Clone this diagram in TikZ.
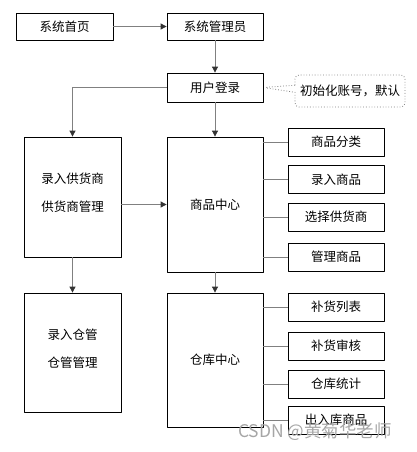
\documentclass[tikz,border=0pt]{standalone}
\usepackage{fontspec}
\setmainfont{Noto Sans CJK SC}
\usetikzlibrary{arrows.meta,shapes.callouts}
\tikzset{
	box/.style={draw, line width=0.8pt, minimum width=96pt, minimum height=28pt, inner sep=0pt},
	arr/.style={draw=gray, line width=0.8pt, -{Triangle[length=6pt,width=6pt,color=black!80]}},
	link/.style={draw=gray, line width=0.8pt},
}
\begin{document}
\begin{tikzpicture}[x=1pt, y=-1pt, line join=round, font=\fontsize{12.5}{28}\selectfont]
		\useasboundingbox (0,0) rectangle (417,452);
		\node[box, minimum width=97pt, minimum height=27pt] (home) at (64.5,26.5) {系统首页};
		\node[box, minimum height=27pt] (admin) at (215,26.5) {系统管理员};
		\node[box, minimum height=29pt] (login) at (215,87.5) {用户登录};
		\node[rectangle callout, draw=gray, dotted, line width=0.8pt, rounded corners=4pt,
			minimum width=110pt, minimum height=32pt, inner sep=0pt,
			callout absolute pointer={(login.east)}] (note) at (350,91) {初始化账号，默认};
		\node[box, minimum width=97pt, minimum height=120pt, align=center, text depth=10pt] (supplier) at (72.5,197) {录入供货商\\供货商管理};
		\node[box, minimum height=135pt] (goods) at (215,204.5) {商品中心};
		\node[box, minimum width=97pt, minimum height=119pt, align=center, text depth=8pt] (keeper) at (72.5,352.5) {录入仓管\\仓管管理};
		\node[box, minimum height=134pt] (store) at (215,360) {仓库中心};
		\foreach \t/\y [count=\i] in {商品分类/142,录入商品/179.5,选择供货商/217,管理商品/257}{
			\node[box] (g\i) at (336,\y) {\t};
			\draw[link] (g\i.west) -- (g\i.west -| goods.east);
		}
		\foreach \t/\y [count=\i] in {补货列表/307,补货审核/346,仓库统计/384,出入库商品/420}{
			\node[box] (s\i) at (336,\y) {\t};
			\draw[link] (s\i.west) -- (s\i.west -| store.east);
		}
		\draw[arr] (home) -- (admin);
		\draw[arr] (admin) -- (login);
		\draw[arr] (login.west) -| (supplier.north);
		\draw[arr] (login) -- (goods);
		\draw[arr] (goods.west -| supplier.east) -- (goods.west);
		\draw[arr] (supplier) -- (keeper);
		\draw[arr] (goods) -- (store);
		\node[text=gray!70, font=\fontsize{17.5}{18}\selectfont] (mark) at (315,432) {CSDN @黄菊华老师};
		\end{tikzpicture}
\end{document}
